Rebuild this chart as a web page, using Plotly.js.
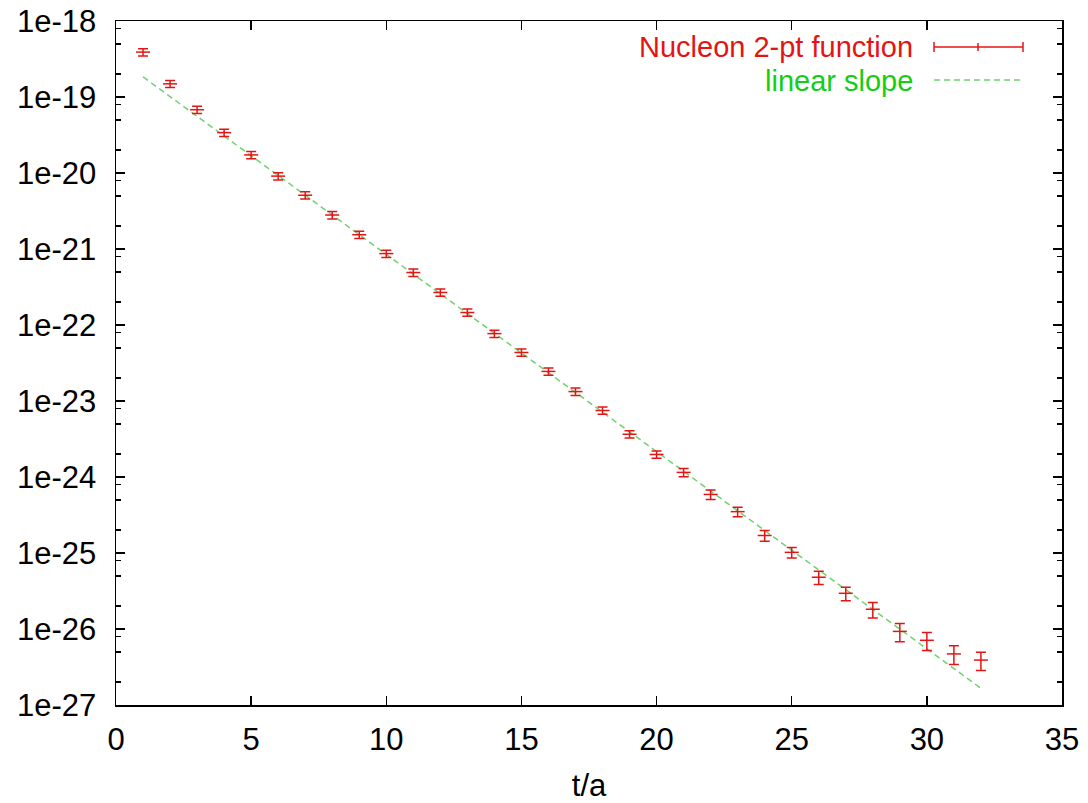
<!DOCTYPE html>
<html>
<head>
<meta charset="utf-8">
<script src="https://cdn.plot.ly/plotly-3.0.1.min.js"></script>
<style>html,body{margin:0;padding:0;background:#fff;}#chart{width:1088px;height:803px;}</style>
</head>
<body>
<div id="chart"></div>
<script>
// Nucleon 2-pt function data (t/a, value, error)
const tValues = [1,2,3,4,5,6,7,8,9,10,11,12,13,14,15,16,17,18,19,20,21,22,23,24,25,26,27,28,29,30,31,32];
const corrValues = [3.9e-19,1.49e-19,6.8e-20,3.4e-20,1.73e-20,9.1e-21,5.1e-21,2.8e-21,1.54e-21,8.7e-22,
  4.9e-22,2.68e-22,1.46e-22,7.7e-23,4.35e-23,2.45e-23,1.33e-23,7.5e-24,3.65e-24,1.98e-24,
  1.15e-24,5.9e-25,3.5e-25,1.7e-25,1.02e-25,4.8e-26,2.95e-26,1.82e-26,9.3e-27,7.1e-27,4.7e-27,3.9e-27];
const corrErrors = [4.3e-20,1.6e-20,7.5e-21,3.7e-21,1.9e-21,1.0e-21,5.6e-22,3.1e-22,1.7e-22,9.6e-23,
  5.4e-23,2.9e-23,1.6e-23,8.5e-24,4.8e-24,2.7e-24,1.5e-24,8.3e-25,4.0e-25,2.2e-25,
  1.4e-25,8.3e-26,4.9e-26,2.7e-26,1.6e-26,9.6e-27,5.9e-27,4.2e-27,2.5e-27,1.9e-27,1.3e-27,1.05e-27];
// linear slope (straight line on log scale) endpoints
const slopeT = [1, 32];
const slopeValues = [1.84e-19, 1.66e-27];
// axis ticks
const yTickVals = [1e-27,1e-26,1e-25,1e-24,1e-23,1e-22,1e-21,1e-20,1e-19,1e-18];
const yTickText = ['1e-27','1e-26','1e-25','1e-24','1e-23','1e-22','1e-21','1e-20','1e-19','1e-18'];
const xTickVals = [0,5,10,15,20,25,30,35];
const seriesNames = ['Nucleon 2-pt function', 'linear slope'];

const RED = 'rgb(228,20,20)';
const GREEN_TXT = 'rgb(20,205,20)';
const GREEN_LINE = 'rgb(110,210,110)';
const FONT = 'Liberation Sans, Arial, sans-serif';

const yMinor = [];
for (let e = -27; e < -18; e++) { [2,5,8].forEach(m => yMinor.push(m * Math.pow(10, e))); }

const traces = [
  {
    x: slopeT, y: slopeValues, type: 'scatter', mode: 'lines', name: seriesNames[1],
    line: {color: GREEN_LINE, width: 1.5, dash: '6px,4px'}, showlegend: false, hoverinfo: 'skip'
  },
  {
    x: tValues, y: corrValues, type: 'scatter', mode: 'markers', name: seriesNames[0],
    marker: {symbol: 'line-ew', size: 10, color: RED, line: {color: RED, width: 1.5}},
    error_y: {type: 'data', array: corrErrors, visible: true, color: RED, thickness: 1.5, width: 5},
    showlegend: false
  }
];

const L = 116, R = 26, T = 21, B = 98;
const plotW = 1088 - L - R, plotH = 803 - T - B;
const px = v => (v - L) / plotW;
const py = v => 1 - (v - T) / plotH;

const layout = {
  width: 1088, height: 803,
  margin: {l: L, r: R, t: T, b: B, pad: 0},
  paper_bgcolor: '#fff', plot_bgcolor: '#fff',
  font: {family: FONT, size: 31, color: '#000'},
  showlegend: false,
  xaxis: {
    range: [0, 35], tickvals: xTickVals, ticks: 'inside', ticklen: 9, tickwidth: 1.5, tickcolor: '#000',
    showline: true, linewidth: 1.5, linecolor: '#000', mirror: 'allticks', showgrid: false, zeroline: false,
    tickfont: {family: FONT, size: 31, color: '#000'}, ticklabelstandoff: 6,
    title: {text: 't/a', font: {family: FONT, size: 31, color: '#000'}, standoff: 22}
  },
  yaxis: {
    type: 'log', range: [-27, -18], tickvals: yTickVals, ticktext: yTickText,
    ticks: 'inside', ticklen: 9, tickwidth: 1.5, tickcolor: '#000',
    showline: true, linewidth: 1.5, linecolor: '#000', mirror: 'allticks', showgrid: false, zeroline: false,
    tickfont: {family: FONT, size: 31, color: '#000'}, ticklabelstandoff: 12,
    minor: {tickvals: yMinor, ticks: 'inside', ticklen: 5, tickwidth: 1.5, tickcolor: '#000', showgrid: false}
  },
  annotations: [
    {xref: 'paper', yref: 'paper', x: px(914), y: py(47), xanchor: 'right', yanchor: 'middle', borderpad: 0,
     text: seriesNames[0], showarrow: false, font: {family: FONT, size: 29, color: RED}},
    {xref: 'paper', yref: 'paper', x: px(914), y: py(81), xanchor: 'right', yanchor: 'middle', borderpad: 0,
     text: seriesNames[1], showarrow: false, font: {family: FONT, size: 29, color: GREEN_TXT}}
  ],
  shapes: [
    {type: 'line', xref: 'paper', yref: 'paper', x0: px(934), x1: px(1023), y0: py(47), y1: py(47), line: {color: RED, width: 1.5}},
    {type: 'line', xref: 'paper', yref: 'paper', x0: px(934), x1: px(934), y0: py(42), y1: py(52), line: {color: RED, width: 1.5}},
    {type: 'line', xref: 'paper', yref: 'paper', x0: px(1023), x1: px(1023), y0: py(42), y1: py(52), line: {color: RED, width: 1.5}},
    {type: 'line', xref: 'paper', yref: 'paper', x0: px(978), x1: px(978), y0: py(43), y1: py(51), line: {color: RED, width: 1.5}},
    {type: 'line', xref: 'paper', yref: 'paper', x0: px(934), x1: px(1020), y0: py(80), y1: py(80), line: {color: GREEN_LINE, width: 1.5, dash: '6px,4px'}}
  ]
};

Plotly.newPlot('chart', traces, layout, {displayModeBar: false, staticPlot: true});
</script>
</body>
</html>
